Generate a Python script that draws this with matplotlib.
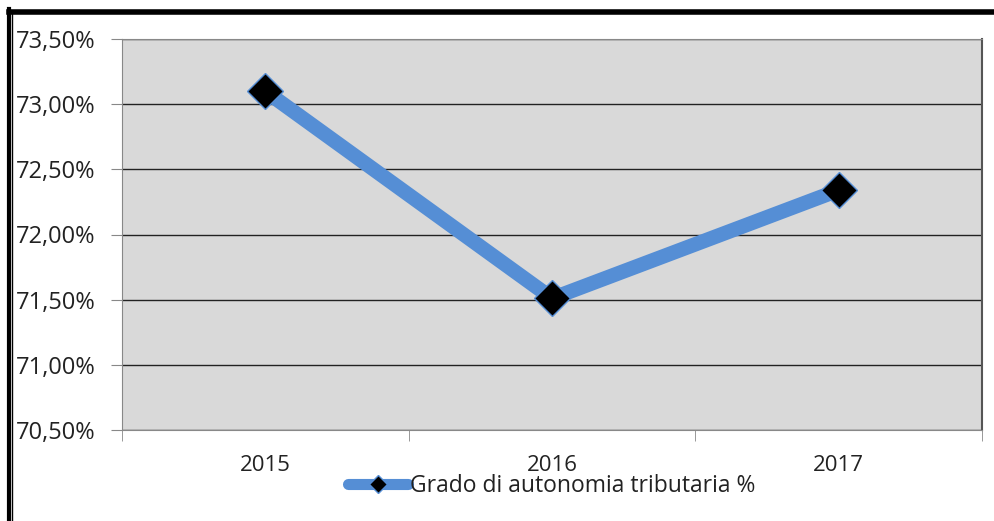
import matplotlib.pyplot as plt
from matplotlib.ticker import FuncFormatter
from matplotlib.lines import Line2D

years = ["2015", "2016", "2017"]
autonomia = [73.10, 71.51, 72.34]
y_ticks = [70.50, 71.00, 71.50, 72.00, 72.50, 73.00, 73.50]

plt.rcParams['font.family'] = ['Open Sans', 'DejaVu Sans']

fig = plt.figure(figsize=(9.95, 5.21), dpi=100)
ax = fig.add_axes([122 / 995, 1 - 430 / 521, 860 / 995, 391 / 521])
ax.set_facecolor('#d9d9d9')

x = list(range(len(years)))
ax.plot(x, autonomia, color='#558ed5', lw=10.5, solid_capstyle='butt',
        marker='D', ms=18, mfc='black', mec='#558ed5', mew=1, zorder=3)

ax.set_xlim(-0.5, len(years) - 0.5)
ax.set_ylim(70.5, 73.5)
ax.set_yticks(y_ticks)
ax.yaxis.set_major_formatter(FuncFormatter(lambda v, p: f"{v:.2f}%".replace('.', ',')))
ax.set_xticks(x)
ax.set_xticklabels(years)
ax.set_xticks([-0.5, 0.5, 1.5, 2.5], minor=True)
ax.tick_params(axis='x', which='major', length=0, pad=18)
ax.tick_params(axis='x', which='minor', length=8, color='#888888', direction='out')
ax.tick_params(axis='y', length=8, color='#888888', pad=11)
ax.tick_params(labelsize=16, labelcolor='#222222')
for lab in ax.get_yticklabels():
    lab.set_fontsize(17)

ax.grid(axis='y', color='#222222', lw=1)
ax.set_axisbelow(True)
ax.spines['left'].set_color('#888888')
ax.spines['bottom'].set_color('#888888')
ax.spines['top'].set_color('#888888')
ax.spines['right'].set_color('#555555')
ax.spines['right'].set_linewidth(1.5)

handle = Line2D([], [], color='#558ed5', lw=8, marker='D', ms=9,
                mfc='black', mec='#558ed5', solid_capstyle='round')
fig.legend([handle], ['Grado di autonomia tributaria %'], loc='center',
           bbox_to_anchor=(552 / 995, 1 - 486 / 521), frameon=False,
           fontsize=16.5, handlelength=2.6, handletextpad=0.1,
           labelcolor='#222222')

# outer frame
fig.add_artist(Line2D([8.5 / 995, 8.5 / 995], [0, 1 - 9 / 521], color='black', lw=3))
fig.add_artist(Line2D([8.5 / 995, 1], [1 - 11.5 / 521, 1 - 11.5 / 521], color='black', lw=4))
fig.add_artist(Line2D([12 / 995, 12 / 995], [0, 1 - 14 / 521], color='black', lw=1))

fig.savefig('out.png', dpi=100)
